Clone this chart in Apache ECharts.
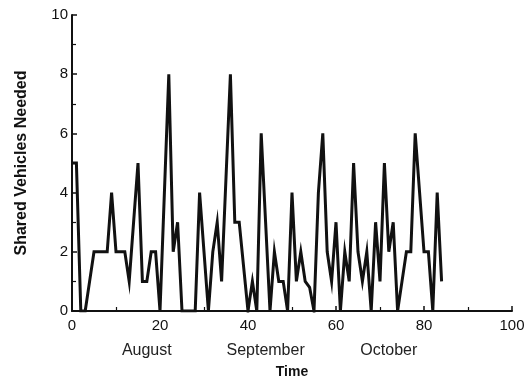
<!DOCTYPE html>
<html>
<head>
<meta charset="utf-8">
<script src="https://cdn.jsdelivr.net/npm/echarts@6/dist/echarts.min.js"></script>
<style>
  html, body { margin: 0; padding: 0; background: #fff; }
  #main { width: 530px; height: 381px; }
</style>
</head>
<body>
<div id="main"></div>
<script>
// vehicles needed per day
var days = [];
for (var d = 0; d <= 84; d++) days.push(d);
var vehicles = [
  5, 5, 0, 0, 1, 2, 2, 2, 2, 4,
  2, 2, 2, 1, 3, 5, 1, 1, 2, 2,
  0, 4, 8, 2, 3, 0, 0, 0, 0, 4,
  2, 0, 2, 3, 1, 4.5, 8, 3, 3, 1.5,
  0, 1, 0, 6, 3, 0, 2, 1, 1, 0,
  4, 1, 2, 1, 0.8, 0, 4, 6, 2, 1,
  3, 0, 2, 1, 5, 2, 1, 2, 0, 3,
  1, 5, 2, 3, 0, 1, 2, 2, 6, 4,
  2, 2, 0, 4, 1
];
var monthNames = ['August', 'September', 'October'];
var monthPos = [17, 44, 72];

var chart = echarts.init(document.getElementById('main'));

var pts = days.map(function (d, i) { return [d, vehicles[i]]; });

var option = {
  animation: false,
  backgroundColor: '#fff',
  grid: { left: 72, right: 18, top: 15, bottom: 70, containLabel: false, outerBoundsMode: 'none' },
  xAxis: [
    {
      type: 'value',
      min: 0,
      max: 100,
      interval: 20,
      name: 'Time',
      nameLocation: 'middle',
      nameGap: 54,
      nameTextStyle: { fontFamily: 'Liberation Sans', fontWeight: 'bold', fontSize: 14, color: '#111' },
      axisLine: { lineStyle: { color: '#111', width: 2 } },
      axisTick: { inside: true, length: 5, lineStyle: { color: '#111', width: 1.5 } },
      minorTick: { show: true, splitNumber: 2, length: 4, lineStyle: { color: '#111', width: 1.2 } },
      axisLabel: { fontFamily: 'Liberation Sans', fontSize: 15, color: '#111', margin: 7 },
      splitLine: { show: false }
    },
    {
      type: 'value',
      min: 0,
      max: 100,
      position: 'bottom',
      offset: 24,
      axisLine: { show: false },
      axisTick: { show: false },
      splitLine: { show: false },
      axisLabel: {
        customValues: monthPos,
        fontFamily: 'Liberation Sans',
        fontSize: 16,
        color: '#222',
        margin: 8,
        formatter: function (v) {
          var k = monthPos.indexOf(v);
          return k >= 0 ? monthNames[k] : '';
        }
      }
    }
  ],
  yAxis: {
    type: 'value',
    min: 0,
    max: 10,
    interval: 2,
    name: 'Shared Vehicles Needed',
    nameLocation: 'middle',
    nameGap: 42,
    nameTextStyle: { fontFamily: 'Liberation Sans', fontWeight: 'bold', fontSize: 16, color: '#111' },
    axisLine: { show: true, lineStyle: { color: '#111', width: 2 } },
    axisTick: { show: true, inside: true, length: 5, lineStyle: { color: '#111', width: 1.5 } },
    minorTick: { show: true, splitNumber: 2, length: 4, lineStyle: { color: '#111', width: 1.2 } },
    axisLabel: { fontFamily: 'Liberation Sans', fontSize: 15, color: '#111', margin: 4 },
    splitLine: { show: false }
  },
  series: [
    {
      type: 'line',
      data: pts,
      showSymbol: false,
      symbol: 'none',
      lineStyle: { color: '#111', width: 3, join: 'miter' }
    }
  ]
};

chart.setOption(option);
</script>
</body>
</html>
